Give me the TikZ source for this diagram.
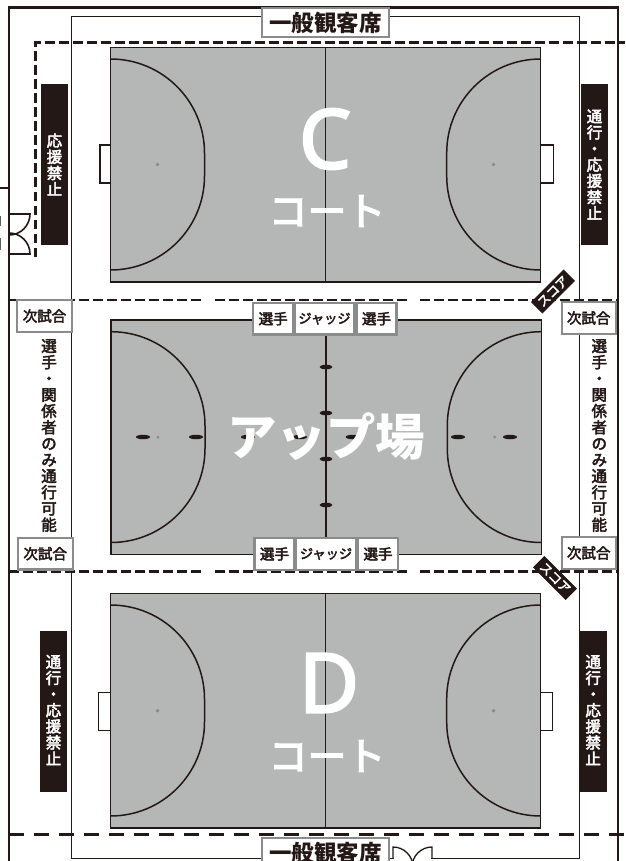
\documentclass[tikz,border=0pt]{standalone}
\usepackage{fontspec}
\usetikzlibrary{shapes.geometric}
\setmainfont{Noto Sans CJK JP}
\newfontfamily\latinf[FakeBold=3.2]{Open Sans}
\newfontfamily\medf[FakeBold=3]{Noto Sans CJK JP}
\newfontfamily\wordf[FakeBold=3.5]{Noto Sans CJK JP}
\definecolor{ink}{HTML}{231815}
\definecolor{floorc}{HTML}{B5B6B6}
\definecolor{frame}{HTML}{8A8B8B}
\definecolor{spot}{HTML}{898989}
\newcommand{\hemi}[4]{% xwall, signed R, ytop, ybot
  \pgfmathsetmacro{\hR}{#2}\pgfmathsetmacro{\hRa}{abs(#2)}
  \draw[courtline] (#1,#3) .. controls ({#1+.5523*\hR},#3) and ({#1+\hR},{#3+.4477*\hRa}) .. ({#1+\hR},{#3+\hRa})
    -- ({#1+\hR},{#4-\hRa}) .. controls ({#1+\hR},{#4-.4477*\hRa}) and ({#1+.5523*\hR},#4) .. (#1,#4);}
\tikzset{
  wall/.style={draw=ink,line width=2.4pt},
  thinwall/.style={draw=ink,line width=0.9pt},
  courtrect/.style={fill=floorc,draw=ink,line width=1.5pt},
  courtline/.style={draw=ink,line width=1.5pt},
  goalbox/.style={draw=ink,line width=1.5pt,fill=white},
  dashlong/.style={draw=ink,line width=3pt,dash pattern=on 15pt off 10pt},
  dashshort/.style={draw=ink,line width=2.8pt,dash pattern=on 9.5pt off 4.5pt},
  spotdot/.style={circle,fill=spot,inner sep=0pt,minimum size=3.8pt},
  marker/.style={ellipse,fill=ink,inner sep=0pt,minimum width=14pt,minimum height=4.5pt},
  greybox/.style={draw=frame,line width=2.4pt,fill=white,inner sep=0pt,text=ink,font=\fontsize{14.5}{16}\medf\selectfont},
  headbox/.style={draw=frame,line width=1.6pt,fill=white,inner sep=0pt,text=ink,font=\fontsize{22.5}{24}\selectfont\bfseries},
  banner/.style={fill=ink,inner sep=0pt},
  bantext/.style={text=white,align=center,inner sep=0pt,font=\fontsize{15.5}{16.15}\medf\selectfont},
  sidetext/.style={text=ink,align=center,inner sep=0pt,font=\fontsize{15.5}{16.25}\medf\selectfont},
  bigletter/.style={text=white,inner sep=0pt,font=\fontsize{82}{82}\latinf\selectfont},
  bigword/.style={text=white,inner sep=0pt,font=\fontsize{39}{40}\wordf\selectfont},
  upword/.style={text=white,inner sep=0pt,font=\fontsize{49.5}{50}\selectfont\bfseries},
  scorebox/.style={fill=ink,text=white,inner sep=0pt,minimum width=46pt,minimum height=16pt,font=\fontsize{12.5}{13}\medf\selectfont}
}
\begin{document}
\begin{tikzpicture}[x=1pt,y=-1pt]
\useasboundingbox (0,0) rectangle (625,861);
\clip (0,0) rectangle (625,861);
% walls
\draw[wall] (9,861) -- (9,7.5) -- (618,7.5) -- (618,861);
\draw[wall,line width=1.8pt] (0,188.3) -- (9,188.3);
% left door
\draw[courtline,line width=1.6pt] (9,214) -- (30,214) .. controls (30,225.6) and (20.6,235) .. (9,235);
\draw[courtline,line width=1.6pt] (9,254) -- (30,254) .. controls (30,242.4) and (20.6,233) .. (9,233);
\fill[ink!70] (0,216) rectangle (1,226);
\fill[ink!70] (0,238) rectangle (1,250);
% inner rectangle
\draw[thinwall] (71.5,16) rectangle (579.5,858);
% C court
\draw[courtrect] (110.5,47.5) rectangle (540.7,281.8);
\draw[goalbox] (100,145) rectangle (110.5,183);
\draw[goalbox] (540.7,145) rectangle (553.5,183);
\hemi{110.5}{94}{59}{270}
\hemi{540.7}{-94}{59}{270}
\draw[courtline] (325.5,47.5) -- (325.5,281.8);
\node[spotdot] (cdotl) at (157.5,164.5) {};
\node[spotdot] (cdotr) at (493.5,164.5) {};
% Up court
\draw[courtrect] (111,320) rectangle (541.3,554.3);
\hemi{111}{94}{331.7}{542.5}
\hemi{541.3}{-94}{331.7}{542.5}
\draw[courtline] (326,320) -- (326,554.3);
\node[spotdot,minimum size=3pt] (udotl) at (158,437) {};
\node[spotdot,minimum size=3pt] (udotr) at (494.5,437) {};
\foreach \mx/\mn in {143/a,196/b,248/c,300/d,352.7/e,458/f,510/g}
  \node[marker] (mh\mn) at (\mx,437) {};
\foreach \my/\mn in {367/a,413/b,459/c,505/d}
  \node[marker,minimum width=13pt] (mv\mn) at (326,\my) {};
% D court
\draw[courtrect] (110.5,593.5) rectangle (540.7,828);
\draw[goalbox] (98.7,692.7) rectangle (110.5,730.7);
\draw[goalbox] (540.7,692.7) rectangle (552.3,730.7);
\hemi{110.5}{94}{605}{816}
\hemi{540.7}{-94}{605}{816}
\draw[courtline] (325.5,593.5) -- (325.5,828);
\node[spotdot] (ddotl) at (157.5,710.7) {};
\node[spotdot] (ddotr) at (493.5,710.7) {};
% dashed lines
\draw[dashshort,line width=3pt] (35,257) -- (35,43) -- (625,43);
\draw[dashshort] (9,300) -- (203,300);
\draw[dashshort] (215,300) -- (409,300);
\draw[dashshort] (420,300) -- (618,300);
\draw[dashshort] (9,571.3) -- (203,571.3);
\draw[dashshort] (215,571.3) -- (409,571.3);
\draw[dashshort] (420,571.3) -- (618,571.3);
\draw[dashlong] (9,834) -- (625,834);
% bottom door
\fill[white] (394,856.5) rectangle (431,859.5);
\draw[courtline,line width=1.3pt] (393,858) -- (393,847) .. controls (404,847) and (413,856) .. (413,867);
\draw[courtline,line width=1.3pt] (432,858) -- (432,847) .. controls (421,847) and (412,856) .. (412,867);
% big words
\node[bigletter] (cletter) at (325,139) {C};
\node[bigword] (cword) at (327,211) {コート};
\node[bigletter] (dletter) at (329,683) {D};
\node[bigword] (dword) at (327,756) {コート};
\node[upword] (upw) at (326,437) {アップ場};
% head boxes
\node[headbox,minimum width=127pt,minimum height=29pt] (headtop) at (325.5,22.5) {一般観客席};
\node[headbox,minimum width=127pt,minimum height=29pt] (headbot) at (325.5,852.5) {一般観客席};
% banners
\node[banner,minimum width=27pt,minimum height=161pt] (bcl) at (54.5,164.5) {};
\node[bantext] (tcl) at (54.5,164.5) {応\\援\\禁\\止};
\node[banner,minimum width=27pt,minimum height=161pt] (bcr) at (594.5,164.5) {};
\node[bantext] (tcr) at (594.5,164.5) {通\\行\\・\\応\\援\\禁\\止};
\node[banner,minimum width=27pt,minimum height=161pt] (bdl) at (53.5,711.5) {};
\node[bantext] (tdl) at (53.5,710) {通\\行\\・\\応\\援\\禁\\止};
\node[banner,minimum width=27.5pt,minimum height=161pt] (bdr) at (593.2,711.5) {};
\node[bantext] (tdr) at (593.2,710) {通\\行\\・\\応\\援\\禁\\止};
% side texts
\node[sidetext] (sl) at (49,435.5) {選\\手\\・\\関\\係\\者\\の\\み\\通\\行\\可\\能};
\node[sidetext] (sr) at (599.3,435.5) {選\\手\\・\\関\\係\\者\\の\\み\\通\\行\\可\\能};
% next-match boxes
\node[greybox,minimum width=55pt,minimum height=31.5pt] (nm1) at (44.5,316) {次試合};
\node[greybox,minimum width=55pt,minimum height=31.5pt] (nm2) at (45.2,553.7) {次試合};
\node[greybox,minimum width=54pt,minimum height=31.5pt] (nm3) at (588.7,318) {次試合};
\node[greybox,minimum width=54pt,minimum height=31.5pt] (nm4) at (588.7,553) {次試合};
% top row of boxes
\node[greybox,minimum width=40pt,minimum height=31.5pt] (pt1) at (273.2,318.7) {選手};
\node[greybox,minimum width=60pt,minimum height=31.5pt,font=\fontsize{13.2}{15}\medf\selectfont] (jt) at (324.5,318.7) {ジャッジ};
\node[greybox,minimum width=40pt,minimum height=31.5pt] (pt2) at (376.5,318.7) {選手};
% bottom row of boxes
\node[greybox,minimum width=40pt,minimum height=31.5pt] (pb1) at (274.5,554) {選手};
\node[greybox,minimum width=60pt,minimum height=31.5pt,font=\fontsize{13.2}{15}\medf\selectfont] (jb) at (326,554) {ジャッジ};
\node[greybox,minimum width=40pt,minimum height=31.5pt] (pb2) at (378,554) {選手};
% score tags
\node[scorebox,rotate=45] (s1) at (553,291.5) {スコア};
\node[scorebox,rotate=-45] (s2) at (555,578) {スコア};
\end{tikzpicture}
\end{document}
